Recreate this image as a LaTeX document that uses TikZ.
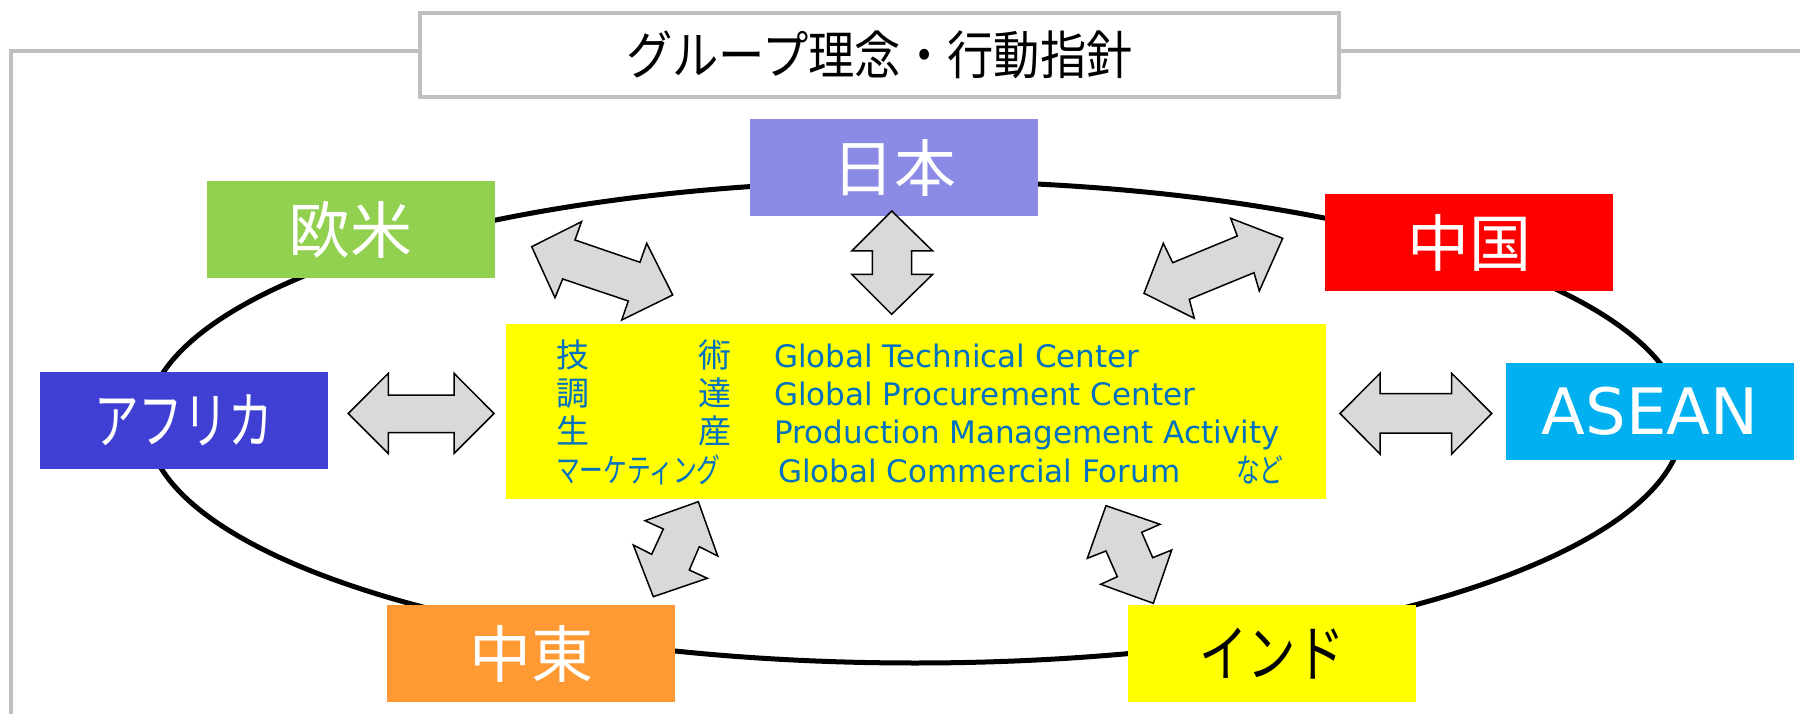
\documentclass[tikz,border=0pt]{standalone}
\usepackage{graphicx}
\usepackage{fontspec}
\setmainfont{DejaVu Sans}
\newfontfamily\jp{Noto Sans CJK JP}
\newfontfamily\lat{DejaVu Sans}
\definecolor{cJapan}{RGB}{139,139,229}
\definecolor{cEU}{RGB}{146,208,80}
\definecolor{cChina}{RGB}{255,0,0}
\definecolor{cAfrica}{RGB}{63,63,212}
\definecolor{cASEAN}{RGB}{0,176,240}
\definecolor{cME}{RGB}{255,153,51}
\definecolor{cYel}{RGB}{255,255,0}
\definecolor{cBlueText}{RGB}{0,112,192}
\definecolor{cArrow}{RGB}{217,217,217}
\definecolor{cFrame}{RGB}{191,191,191}
\tikzset{
  region/.style={rectangle, inner sep=0pt, minimum width=288pt, minimum height=97pt, text=white,
    font=\jp\fontsize{62}{70}\selectfont},
  framestyle/.style={draw=cFrame, line width=4pt},
  blockarrow/.style={fill=cArrow, draw=black, line width=1.5pt, line join=miter},
  jpsmall/.style={text=cBlueText, inner sep=0pt, font=\jp\fontsize{33}{38}\selectfont},
  ensmall/.style={text=cBlueText, inner sep=0pt, font=\lat\fontsize{31}{36}\selectfont},
}
\begin{document}
\begin{tikzpicture}[x=1pt,y=-1pt]
\useasboundingbox (0,0) rectangle (1800,714);
% frame and title
\node[framestyle, fill=white, rectangle, inner sep=0pt, minimum width=919pt, minimum height=84pt,
      font=\jp\fontsize{52}{58}\selectfont] (title) at (879.5,55.3) {\scalebox{0.89}[1]{グループ理念・行動指針}};
\coordinate (fl) at (10.5,51.5);
\coordinate (fb) at (10.5,720);
\coordinate (fr) at (1806,51.5);
\draw[framestyle] (fl -| title.west) -- (fl) -- (fb);
\draw[framestyle] (title.east |- fl) -- (fr);
% ring
\draw[line width=5pt] (915,422) ellipse [x radius=768pt, y radius=241pt];
% regions
\node[region, fill=cJapan] (japan) at (894,167.5) {日本};
\node[region, fill=cEU] (eu) at (350.5,229.5) {欧米};
\node[region, fill=cChina] (china) at (1469,242.5) {中国};
\node[region, fill=cAfrica] (africa) at (183.5,420.5) {\scalebox{0.72}[1]{アフリカ}};
\node[region, fill=cASEAN, font=\lat\fontsize{64}{70}\selectfont] (asean) at (1650,411.5) {ASEAN};
\node[region, fill=cME] (me) at (531,653.5) {中東};
\node[region, fill=cYel, text=black] (india) at (1272,653.5) {\scalebox{0.78}[1]{インド}};
% center box
\node[rectangle, fill=cYel, inner sep=0pt, minimum width=820pt, minimum height=175pt] (center) at (916,411.5) {};
\node[jpsmall, anchor=base west] (a1) at (556,367) {技};
\node[jpsmall, anchor=base east] (b1) at (732,367) {術};
\node[ensmall, anchor=base west] (c1) at (774,367) {Global Technical Center};
\node[jpsmall, anchor=base west] (a2) at (556,405.5) {調};
\node[jpsmall, anchor=base east] (b2) at (732,405.5) {達};
\node[ensmall, anchor=base west] (c2) at (774,405.5) {Global Procurement Center};
\node[jpsmall, anchor=base west] (a3) at (556,443.5) {生};
\node[jpsmall, anchor=base east] (b3) at (732,443.5) {産};
\node[ensmall, anchor=base west] (c3) at (774.5,443.5) {Production Management Activity};
\node[jpsmall, anchor=base west] (a4) at (556,482) {\scalebox{0.72}[1]{マーケティング}};
\node[ensmall, anchor=base west] (c4) at (778,482) {Global Commercial Forum};
\node[jpsmall, anchor=base west] (d4) at (1236,482) {\scalebox{0.72}[1]{など}};
% block arrows
\draw[blockarrow] (531.7,246.7) -- (581.5,221.7) -- (575,240) -- (640,262.3) -- (646.7,243.3)
  -- (672.7,295) -- (621.7,320) -- (628.3,301) -- (562.7,279) -- (555,297.7) -- cycle;
\draw[blockarrow] (891.7,211) -- (932.7,251) -- (911.7,251) -- (911.7,274.3) -- (932.7,274.3)
  -- (891.7,314.3) -- (851.7,274.3) -- (872.3,274.3) -- (872.3,251) -- (851.7,251) -- cycle;
\draw[blockarrow] (1144,293.3) -- (1163.3,243.3) -- (1172.7,262.7) -- (1237.3,236) -- (1230.7,218.3)
  -- (1282.7,238.3) -- (1259.3,291) -- (1254,272.7) -- (1189.3,299.3) -- (1194.3,318.3) -- cycle;
\draw[blockarrow] (348.3,413.5) -- (388.3,373.3) -- (388.3,395) -- (454,395) -- (454,373.3)
  -- (494,413.5) -- (454,453.5) -- (454,432.5) -- (388.3,432.5) -- (388.3,453.5) -- cycle;
\draw[blockarrow] (1340,413.5) -- (1380,373.3) -- (1380,393.5) -- (1451.7,393.5) -- (1451.7,373.3)
  -- (1491.7,413.5) -- (1451.7,454) -- (1451.7,433) -- (1380,433) -- (1380,454) -- cycle;
\draw[blockarrow] (698.3,501.7) -- (717.7,556) -- (699.3,546.7) -- (689.3,570) -- (707.3,578.3)
  -- (653.3,596.7) -- (633.3,545) -- (651.7,554.3) -- (663.3,529) -- (645,520.7) -- cycle;
\draw[blockarrow] (1106,505.7) -- (1160,524.3) -- (1141.7,532.3) -- (1152.7,557.7) -- (1171.7,550)
  -- (1153.3,603.3) -- (1100.7,584.3) -- (1117.3,576.7) -- (1106,551) -- (1087.3,558.3) -- cycle;
\end{tikzpicture}
\end{document}
